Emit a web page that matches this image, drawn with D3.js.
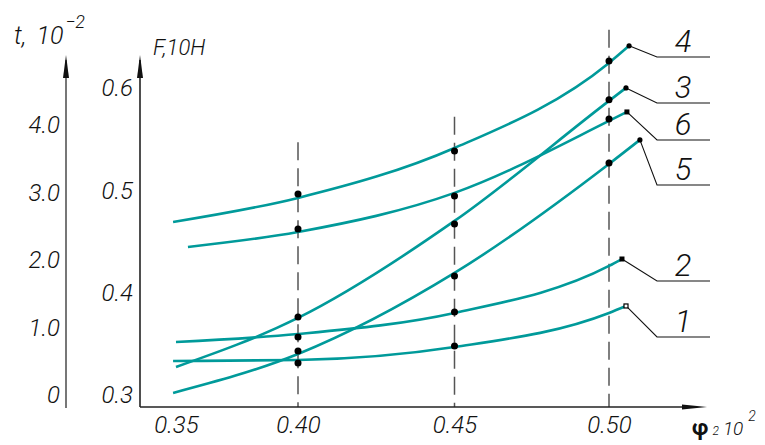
<!DOCTYPE html>
<html>
<head>
<meta charset="utf-8">
<script src="https://cdn.jsdelivr.net/npm/d3@7"></script>
<style>
  body { margin: 0; background: #fff; }
  text { font-family: Roboto, "DejaVu Sans", sans-serif; font-style: italic; font-weight: 300; fill: #111; }
</style>
</head>
<body>
<svg id="chart" width="765" height="445"></svg>
<script>
// Axis ticks
const phiTicks = [0.35, 0.40, 0.45, 0.50];
const forceTicks = [0.3, 0.4, 0.5, 0.6];
const timeTicks = [0, 1, 2, 3, 4];

// Measurement stations (dashed guides) and the height each guide reaches, F units
const stations = [0.40, 0.45, 0.50];
const stationTops = [0.547, 0.572, 0.657];

// Curves: phi at start / stations / end, and F along the fitted curve
const phi1 = [0.3488, 0.40, 0.45, 0.50, 0.5055];
const force1 = [0.3332, 0.3342, 0.3469, 0.3802, 0.3870];
const phi2 = [0.3500, 0.40, 0.45, 0.50, 0.5042];
const force2 = [0.3518, 0.3596, 0.3802, 0.4261, 0.4329];
const phi3 = [0.3500, 0.40, 0.45, 0.50, 0.5055];
const force3 = [0.3274, 0.3753, 0.4701, 0.5874, 0.6001];
const phi4 = [0.3488, 0.40, 0.45, 0.50, 0.5065];
const force4 = [0.4691, 0.4926, 0.5414, 0.6245, 0.6412];
const phi5 = [0.3488, 0.40, 0.45, 0.50, 0.5100];
const force5 = [0.3020, 0.3401, 0.4193, 0.5258, 0.5493];
const phi6 = [0.3549, 0.40, 0.45, 0.50, 0.5058];
const force6 = [0.4447, 0.4593, 0.4975, 0.5678, 0.5766];

// Measured points at the stations (null = not measured)
const measured1 = [0.3313, 0.3479, null];
const measured2 = [0.3567, 0.3811, null];
const measured3 = [0.3762, 0.4672, 0.5884];
const measured4 = [0.4965, 0.5385, 0.6265];
const measured5 = [0.3430, 0.4163, 0.5268];
const measured6 = [0.4623, 0.4945, 0.5698];

const curveNames = ["1", "2", "3", "4", "5", "6"];
const curvePhi = [phi1, phi2, phi3, phi4, phi5, phi6];
const curveForce = [force1, force2, force3, force4, force5, force6];
const curveMeasured = [measured1, measured2, measured3, measured4, measured5, measured6];
const endMarker = ["squareOpen", "square", "dot", "dot", "dot", "square"];

// Callout layout: elbow height of each leader (px)
const calloutY = { "1": 337, "2": 281, "3": 103, "4": 57, "5": 185, "6": 140 };

const svg = d3.select("#chart");
const teal = "#009a9a";

const x = d3.scaleLinear().domain([0.35, 0.40, 0.45, 0.50]).range([176, 298, 454.5, 609]);
const yF = d3.scaleLinear().domain([0.3, 0.6]).range([395, 88]);
const yT = d3.scaleLinear().domain([0, 4]).range([395, 125]);

const axisY = 407, fAxisX = 140, tAxisX = 66;

// Dashed guides at the stations
svg.append("g").selectAll("line").data(stations).join("line")
  .attr("x1", d => x(d)).attr("x2", d => x(d))
  .attr("y1", (d, i) => yF(stationTops[i])).attr("y2", axisY)
  .attr("stroke", "#555").attr("stroke-width", 1.5)
  .attr("stroke-dasharray", "18,8");

// t axis (grey)
svg.append("line").attr("x1", tAxisX).attr("x2", tAxisX).attr("y1", 60).attr("y2", 408)
  .attr("stroke", "#777").attr("stroke-width", 2);
svg.append("path").attr("d", `M${tAxisX},55 L${tAxisX + 3},78 L${tAxisX - 3},78 Z`).attr("fill", "#111");
const tAxis = svg.append("g").attr("transform", `translate(${tAxisX - 3},0)`)
  .call(d3.axisLeft(yT).tickValues(timeTicks).tickSize(0).tickFormat(d => d === 0 ? "0" : d3.format(".1f")(d)));
tAxis.select(".domain").remove();

// F axis
svg.append("line").attr("x1", fAxisX).attr("x2", fAxisX).attr("y1", 60).attr("y2", axisY)
  .attr("stroke", "#222").attr("stroke-width", 1.6);
svg.append("path").attr("d", `M${fAxisX},55 L${fAxisX + 3},78 L${fAxisX - 3},78 Z`).attr("fill", "#111");
const fAxis = svg.append("g").attr("transform", `translate(${fAxisX - 4},0)`)
  .call(d3.axisLeft(yF).tickValues(forceTicks).tickSize(0).tickFormat(d3.format(".1f")));
fAxis.select(".domain").remove();

// phi axis
svg.append("line").attr("x1", fAxisX).attr("x2", 690).attr("y1", axisY).attr("y2", axisY)
  .attr("stroke", "#222").attr("stroke-width", 1.6);
svg.append("path").attr("d", `M707,${axisY} L682,${axisY - 2.5} L682,${axisY + 2.5} Z`).attr("fill", "#111");
const xAxis = svg.append("g").attr("transform", `translate(0,${axisY + 6})`)
  .call(d3.axisBottom(x).tickValues(phiTicks).tickSize(0).tickFormat(d3.format(".2f")));
xAxis.select(".domain").remove();

svg.selectAll(".tick text").style("font-size", "24px");

// Axis titles
const tTitle = svg.append("text").attr("x", 14).attr("y", 44).style("font-size", "25px");
tTitle.append("tspan").text("t,");
tTitle.append("tspan").attr("dx", 10).text("10");
tTitle.append("tspan").attr("dx", 2).attr("dy", -16).style("font-size", "18px").text("−2");
svg.append("text").attr("x", 153).attr("y", 55).style("font-size", "22px").text("F,10H");
const phiTitle = svg.append("text").attr("x", 692).attr("y", 435).style("font-size", "19px");
phiTitle.append("tspan").style("font-weight", "700").style("font-style", "normal").style("font-size", "22px").text("φ");
phiTitle.append("tspan").attr("dx", 4).style("font-size", "12px").text("2");
phiTitle.append("tspan").attr("dx", 4).text("10");
phiTitle.append("tspan").attr("dx", 5).attr("dy", -14).style("font-size", "14px").text("2");

// Curves
const line = d3.line().x(d => x(d[0])).y(d => yF(d[1])).curve(d3.curveMonotoneX);
curveNames.forEach((name, i) => {
  const pts = curvePhi[i].map((p, j) => [p, curveForce[i][j]]);
  svg.append("path").attr("d", line(pts)).attr("fill", "none")
    .attr("stroke", teal).attr("stroke-width", 2.6);
});

// Measured points
curveNames.forEach((name, i) => {
  curveMeasured[i].forEach((v, j) => {
    if (v === null) return;
    svg.append("circle").attr("cx", x(stations[j])).attr("cy", yF(v)).attr("r", 3.5).attr("fill", "#000");
  });
});

// End markers, leaders and curve numbers
curveNames.forEach((name, i) => {
  const p = curvePhi[i], f = curveForce[i];
  const ex = x(p[p.length - 1]), ey = yF(f[f.length - 1]);
  const ly = calloutY[name];
  svg.append("path").attr("d", `M${ex},${ey} L657,${ly} L710,${ly}`)
    .attr("fill", "none").attr("stroke", "#111").attr("stroke-width", 1.1);
  if (endMarker[i] === "dot") {
    svg.append("circle").attr("cx", ex).attr("cy", ey).attr("r", 2.6).attr("fill", "#000");
  } else if (endMarker[i] === "square") {
    svg.append("rect").attr("x", ex - 2.5).attr("y", ey - 2.5).attr("width", 5).attr("height", 5).attr("fill", "#000");
  } else {
    svg.append("rect").attr("x", ex - 2).attr("y", ey - 2).attr("width", 4).attr("height", 4)
      .attr("fill", "#fff").attr("stroke", "#000").attr("stroke-width", 1.2);
  }
  svg.append("text").attr("x", 683).attr("y", ly - 5).attr("text-anchor", "middle")
    .style("font-size", "31px").text(name);
});
</script>
</body>
</html>
